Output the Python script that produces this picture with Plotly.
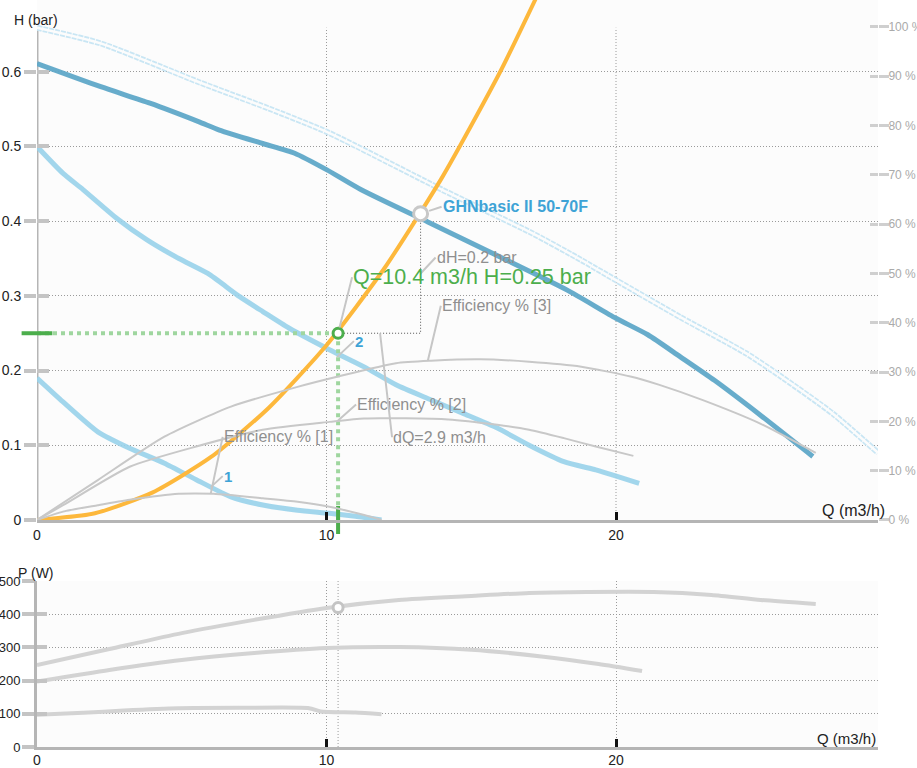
import plotly.graph_objects as go

# ---------------- data ----------------
# pump curve at max speed (speed 3)
q_c3 = [0, 2.2, 3.9, 5.6, 6.3, 7.8, 8.9, 10.0, 11.2, 13.5, 16.0, 18.3, 20.0, 21.1, 22.2, 23.4, 25.0, 26.8]
h_c3 = [0.611, 0.580, 0.558, 0.533, 0.522, 0.504, 0.491, 0.469, 0.442, 0.399, 0.352, 0.308, 0.270, 0.248, 0.219, 0.187, 0.140, 0.085]
# speed 2
q_c2 = [0, 0.9, 1.6, 2.75, 3.8, 4.9, 5.9, 7.0, 7.8, 8.7, 10.1, 11.3, 12.4, 13.6, 14.7, 15.9, 17.0, 18.2, 19.3, 19.9, 20.8]
h_c2 = [0.500, 0.464, 0.442, 0.404, 0.375, 0.350, 0.330, 0.299, 0.279, 0.257, 0.228, 0.205, 0.181, 0.161, 0.143, 0.123, 0.100, 0.078, 0.067, 0.060, 0.049]
# speed 1
q_c1 = [0, 0.9, 2.1, 3.2, 4.4, 5.5, 6.7, 7.8, 9.0, 10.1, 11.0, 11.9]
h_c1 = [0.190, 0.158, 0.118, 0.096, 0.076, 0.054, 0.031, 0.020, 0.013, 0.009, 0.005, 0.0]
# envelope (dotted) curve
q_env = [0, 2.2, 5.6, 8.0, 10.1, 14.0, 17.1, 18.8, 20.0, 22.2, 24.5, 25.7, 27.5, 29.05]
h_env = [0.659, 0.638, 0.586, 0.551, 0.518, 0.442, 0.384, 0.348, 0.321, 0.272, 0.223, 0.192, 0.142, 0.090]
# system curve
q_sys = [0, 2, 4, 6, 8, 10, 12, 14, 16, 17.5]
h_sys = [0, 0.009, 0.037, 0.084, 0.150, 0.234, 0.337, 0.459, 0.600, 0.720]
# efficiency curves (%)
q_e3 = [0, 2.1, 4.4, 6.7, 9.0, 10.4, 12.4, 13.6, 15.3, 17.0, 18.8, 20.5, 21.5, 23.0, 25.0, 26.9]
eff3 = [0, 8.1, 16.9, 23.0, 27.0, 29.1, 31.8, 32.3, 32.6, 32.1, 31.1, 29.1, 27.4, 24.3, 19.5, 13.6]
q_e2 = [0, 0.9, 3.2, 5.5, 7.8, 10.1, 11.3, 14.2, 15.9, 17.0, 18.2, 19.3, 20.6]
eff2 = [0, 3.0, 10.8, 14.9, 18.3, 19.9, 20.6, 20.4, 19.3, 18.3, 16.6, 14.9, 13.0]
q_e1 = [0, 0.9, 2.1, 3.2, 4.9, 6.1, 7.8, 9.0, 10.1, 11.3, 11.9]
eff1 = [0, 1.7, 3.0, 4.1, 5.3, 5.3, 4.4, 3.7, 2.7, 1.0, 0]
# power curves (W)
q_p3 = [0, 2.5, 5.0, 7.5, 10.0, 12.5, 15.0, 17.0, 19.0, 21.3, 23.3, 25.0, 26.9]
pw3 = [247, 295, 343, 383, 419, 443, 455, 464, 467, 467, 458, 443, 431]
q_p2 = [0, 2.5, 5.0, 7.5, 10.0, 12.5, 15.0, 17.5, 19.4, 20.9]
pw2 = [197, 232, 262, 283, 298, 301, 293, 272, 250, 229]
q_p1 = [0, 1.6, 3.0, 4.9, 7.0, 9.4, 9.8, 11.0, 11.9]
pw1 = [97, 103, 110, 117, 118, 117, 107, 104, 99]

# operating points
req_q, req_h, req_p = 10.4, 0.25, 420
duty_q, duty_h = 13.25, 0.41

# axis ticks
q_ticks = [0, 10, 20]
h_ticks = [0, 0.1, 0.2, 0.3, 0.4, 0.5, 0.6]
h_ticktext = ["0", "0.1", "0.2", "0.3", "0.4", "0.5", "0.6"]
eff_ticks = [0, 10, 20, 30, 40, 50, 60, 70, 80, 90, 100]
eff_ticktext = ["0 %", "10 %", "20 %", "30 %", "40 %", "50 %", "60 %", "70 %", "80 %", "90 %", "100 %"]
p_ticks = [0, 100, 200, 300, 400, 500]

# ---------------- styling ----------------
FONT = "Liberation Sans, Arial, sans-serif"
DARK_BLUE = "rgba(95,168,200,0.95)"
LIGHT_BLUE = "rgba(152,210,234,0.9)"
ORANGE = "#fdb83c"
GRAY = "#c8c8c8"
GREEN = "#4cae4c"
LGREEN = "#9fd69f"
LBL_BLUE = "#3ea3d6"
TXT_GRAY = "#8f8f8f"
GRID = "#9a9a9a"
Q_MAX = 29.05
H_MAX = 0.6961
E_MAX = 105.47

fig = go.Figure()

def line(x, y, color, width, xa="x", ya="y", dash="solid", shape="spline"):
    fig.add_trace(go.Scatter(x=x, y=y, mode="lines", xaxis=xa, yaxis=ya,
                             line=dict(color=color, width=width, dash=dash, shape=shape, smoothing=0.6),
                             hoverinfo="skip"))

# efficiency curves
line(q_e3, eff3, GRAY, 2, ya="y2")
line(q_e2, eff2, GRAY, 2, ya="y2")
line(q_e1, eff1, GRAY, 2, ya="y2")
# envelope (hollow-looking dotted line)
line(q_env, h_env, "#c9e6f4", 6, dash="5px,1px")
line(q_env, h_env, "#fcfcfc", 2.5)
# pump curves
line(q_c1, h_c1, LIGHT_BLUE, 5)
line(q_c2, h_c2, LIGHT_BLUE, 5)
line(q_c3, h_c3, DARK_BLUE, 5)
# system curve
line(q_sys, h_sys, ORANGE, 4)

# dH / dQ bracket
line([req_q, duty_q, duty_q], [req_h, req_h, duty_h], "#555555", 1, dash="1px,2px", shape="linear")
# green guides
line([0, req_q], [req_h, req_h], LGREEN, 4, dash="dot", shape="linear")
line([req_q, req_q], [req_h, 0], LGREEN, 4, dash="dot", shape="linear")
fig.add_trace(go.Scatter(x=[0], y=[req_h], mode="markers", cliponaxis=False, hoverinfo="skip",
                         marker=dict(symbol="line-ew", size=22, line=dict(color=GREEN, width=4))))
fig.add_trace(go.Scatter(x=[req_q], y=[0], mode="markers", cliponaxis=False, hoverinfo="skip",
                         marker=dict(symbol="line-ns", size=20, line=dict(color=GREEN, width=4))))
# operating point markers
fig.add_trace(go.Scatter(x=[duty_q], y=[duty_h], mode="markers", hoverinfo="skip",
                         marker=dict(symbol="circle", size=14, color="white", line=dict(color="#c8c8c8", width=3))))
fig.add_trace(go.Scatter(x=[req_q], y=[req_h], mode="markers", hoverinfo="skip",
                         marker=dict(symbol="circle", size=10, color="white", line=dict(color=GREEN, width=3))))

# power curves (bottom)
line([req_q, req_q], [0, 500], GRID, 1, xa="x2", ya="y3", dash="1px,2px", shape="linear")
line(q_p3, pw3, "#d3d3d3", 4, xa="x2", ya="y3")
line(q_p2, pw2, "#d3d3d3", 4, xa="x2", ya="y3")
line(q_p1, pw1, "#d3d3d3", 4, xa="x2", ya="y3")
fig.add_trace(go.Scatter(x=[req_q], y=[req_p], mode="markers", xaxis="x2", yaxis="y3", hoverinfo="skip",
                         marker=dict(symbol="circle", size=10, color="white", line=dict(color="#c4c4c4", width=3))))

# ---------------- annotations ----------------
anns = []

def label(text, x, y, ax, ay, color=TXT_GRAY, size=16, yref="y", standoff=0, bold=False):
    anns.append(dict(text=("<b>%s</b>" % text) if bold else text, x=x, y=y, xref="x", yref=yref,
                     ax=ax, ay=ay, showarrow=True, arrowhead=0, arrowwidth=2, arrowcolor="#c6c6c6",
                     standoff=standoff, xanchor="left", yanchor="middle", borderpad=0,
                     font=dict(family=FONT, size=size, color=color)))

label("GHNbasic II 50-70F", duty_q, duty_h, 21, -7, color=LBL_BLUE, size=16, standoff=9, bold=True)
label("dH=0.2 bar", duty_q, 0.33, 15, -16)
label("Q=10.4 m3/h H=0.25 bar", req_q, req_h, 14, -56, color=GREEN, size=21.5, standoff=6)
label("Efficiency % [3]", 13.5, 32.3, 13, -55, yref="y2")
label("2", 10.36, 0.218, 17, -16, color=LBL_BLUE, size=15, bold=True)
label("Efficiency % [2]", req_q, 20.2, 18, -16, yref="y2")
label("dQ=2.9 m3/h", 11.85, req_h, 12, 104)
label("Efficiency % [1]", 6.0, 5.3, 12, -57, yref="y2")
label("1", 6.0, 0.044, 12, -11, color=LBL_BLUE, size=15, bold=True)

anns.append(dict(text="H (bar)", x=0, y=0.669, xref="paper", yref="y", xanchor="left", yanchor="middle",
                 xshift=-25, showarrow=False, font=dict(family=FONT, size=14, color="#222")))
anns.append(dict(text="Q (m3/h)", x=1, y=0, xref="paper", yref="y", xanchor="right", yanchor="middle",
                 xshift=9, yshift=9, showarrow=False, font=dict(family=FONT, size=16, color="#222")))
anns.append(dict(text="P (W)", x=0, y=500, xref="paper", yref="y3", xanchor="left", yanchor="middle",
                 xshift=-21, yshift=8, showarrow=False, font=dict(family=FONT, size=14, color="#222")))
anns.append(dict(text="Q (m3/h)", x=1, y=0, xref="paper", yref="y3", xanchor="right", yanchor="middle",
                 xshift=0, yshift=8, showarrow=False, font=dict(family=FONT, size=15, color="#222")))

# ---------------- shapes (top axis line + vertical grid) ----------------
shapes = [dict(type="line", xref="x", yref="y", x0=0, x1=0, y0=0, y1=0.659,
               line=dict(color="#b5b5b5", width=3), layer="below")]
for t in q_ticks[1:]:
    shapes.append(dict(type="line", xref="x", yref="y", x0=t, x1=t, y0=0, y1=0.659,
                       line=dict(color=GRID, width=1, dash="1px,2px"), layer="below"))

TOP_DOM = [0.3039, 1]
BOT_DOM = [0, 0.2222]
tickfont = dict(family=FONT, size=14, color="#222")

fig.update_layout(
    template="none",
    width=917, height=768,
    margin=dict(l=37, r=39, t=0, b=21),
    paper_bgcolor="white", plot_bgcolor="#fcfcfc",
    showlegend=False,
    font=dict(family=FONT, size=14, color="#222"),
    annotations=anns,
    shapes=shapes,
    xaxis=dict(domain=[0, 1], anchor="y", range=[0, Q_MAX], tickmode="array", tickvals=q_ticks,
               ticks="inside", ticklen=8, tickwidth=3, tickcolor="#111", showline=True, linecolor="#b5b5b5",
               linewidth=3, showgrid=False, zeroline=False, tickfont=tickfont, automargin=False),
    yaxis=dict(domain=TOP_DOM, anchor="x", range=[0, H_MAX], tickmode="array", tickvals=h_ticks,
               ticktext=h_ticktext, ticks="outside", ticklen=12, tickwidth=4, tickcolor="#c4c4c4",
               showline=False, showgrid=True, gridcolor=GRID, gridwidth=1, griddash="1px,2px",
               zeroline=False, tickfont=tickfont, automargin=False),
    yaxis2=dict(overlaying="y", side="right", anchor="x", range=[0, E_MAX], tickmode="array",
                tickvals=eff_ticks, ticktext=eff_ticktext, ticks="outside", ticklen=10, tickwidth=3,
                tickcolor="#cfcfcf", tickfont=dict(family=FONT, size=12, color="#aaaaaa"),
                ticklabelstandoff=-3,
                showgrid=False, zeroline=False, showline=False, automargin=False),
    yaxis4=dict(overlaying="y", side="left", anchor="x", range=[0, H_MAX], tickmode="array",
                tickvals=h_ticks, ticks="inside", ticklen=12, tickwidth=4, tickcolor="#c4c4c4",
                showticklabels=False, showgrid=False, zeroline=False, showline=False, automargin=False),
    yaxis5=dict(overlaying="y", side="right", anchor="x", range=[0, E_MAX], tickmode="array",
                tickvals=eff_ticks, ticks="inside", ticklen=8, tickwidth=3, tickcolor="#cfcfcf",
                showticklabels=False, showgrid=False, zeroline=False, showline=False, automargin=False),
    xaxis2=dict(domain=[0, 1], anchor="y3", range=[0, Q_MAX], tickmode="array", tickvals=q_ticks,
                ticks="inside", ticklen=8, tickwidth=3, tickcolor="#111", showline=True, linecolor="#b5b5b5",
                linewidth=3, showgrid=True, gridcolor=GRID, gridwidth=1, griddash="1px,2px",
                ticklabelstandoff=-2,
                zeroline=False, tickfont=tickfont, automargin=False),
    yaxis3=dict(domain=BOT_DOM, anchor="x2", range=[0, 500], tickmode="array", tickvals=p_ticks,
                ticks="outside", ticklen=12, tickwidth=4, tickcolor="#c4c4c4", showline=True,
                linecolor="#b5b5b5", linewidth=3, showgrid=True, gridcolor=GRID, gridwidth=1,
                griddash="1px,2px", zeroline=False, automargin=False, ticklabelstandoff=-1,
                tickfont=dict(family=FONT, size=13, color="#222")),
    yaxis6=dict(overlaying="y3", side="left", anchor="x2", range=[0, 500], tickmode="array",
                tickvals=p_ticks, ticks="inside", ticklen=10, tickwidth=4, tickcolor="#c4c4c4",
                showticklabels=False, showgrid=False, zeroline=False, showline=False, automargin=False),
)
# invisible traces so overlay axes are drawn
fig.add_trace(go.Scatter(x=[None], y=[None], yaxis="y4", showlegend=False, hoverinfo="skip"))
fig.add_trace(go.Scatter(x=[None], y=[None], yaxis="y5", showlegend=False, hoverinfo="skip"))
fig.add_trace(go.Scatter(x=[None], y=[None], xaxis="x2", yaxis="y6", showlegend=False, hoverinfo="skip"))

fig.write_html("out.html", config={"displayModeBar": False},
               post_script="document.body.style.margin='0px';document.body.style.overflow='hidden';")
